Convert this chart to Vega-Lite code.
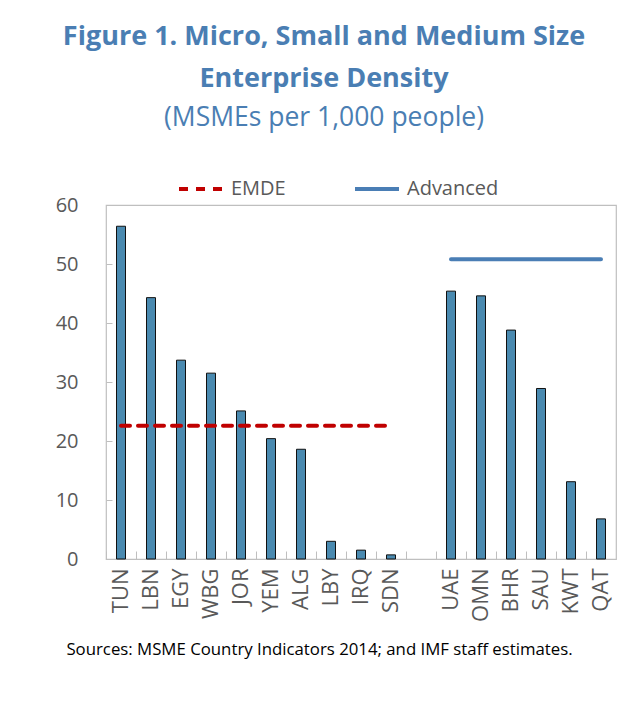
{
  "$schema": "https://vega.github.io/schema/vega-lite/v6.json",
  "width": 510,
  "height": 354,
  "autosize": {"type": "none"},
  "padding": {"left": 106, "top": 205, "right": 15, "bottom": 168},
  "background": "white",
  "config": {
    "font": "Open Sans",
    "view": {"stroke": "#bfbfbf", "strokeWidth": 1.2}
  },
  "title": {
    "text": ["Figure 1. Micro, Small and Medium Size", "Enterprise Density"],
    "subtitle": "(MSMEs per 1,000 people)",
    "font": "Open Sans",
    "fontSize": 27,
    "fontWeight": "bold",
    "color": "#4a7eb3",
    "lineHeight": 42,
    "subtitleFont": "Open Sans",
    "subtitleFontSize": 26.5,
    "subtitleColor": "#4a7eb3",
    "subtitleFontWeight": "normal",
    "subtitlePadding": 12,
    "anchor": "middle",
    "frame": "group",
    "dx": -37,
    "offset": 33
  },
  "datasets": {
    "bars": [
      {"country": "TUN", "value": 56.4},
      {"country": "LBN", "value": 44.3},
      {"country": "EGY", "value": 33.7},
      {"country": "WBG", "value": 31.5},
      {"country": "JOR", "value": 25.1},
      {"country": "YEM", "value": 20.4},
      {"country": "ALG", "value": 18.6},
      {"country": "LBY", "value": 3.0},
      {"country": "IRQ", "value": 1.5},
      {"country": "SDN", "value": 0.7},
      {"country": "gap", "value": null},
      {"country": "UAE", "value": 45.4},
      {"country": "OMN", "value": 44.6},
      {"country": "BHR", "value": 38.8},
      {"country": "SAU", "value": 28.9},
      {"country": "KWT", "value": 13.1},
      {"country": "QAT", "value": 6.8}
    ],
    "lines": [
      {"series": "EMDE", "start": "TUN", "end": "SDN", "value": 22.6},
      {"series": "Advanced", "start": "UAE", "end": "QAT", "value": 50.8}
    ]
  },
  "layer": [
    {
      "data": {"name": "bars"},
      "mark": {"type": "bar", "width": {"band": 0.3}, "fill": "#4a8ab0", "stroke": "#111111", "strokeWidth": 1},
      "encoding": {
        "x": {
          "field": "country",
          "type": "nominal",
          "sort": null,
          "title": "Sources: MSME Country Indicators 2014;  and IMF staff estimates.",
          "scale": {
            "domain": ["TUN", "LBN", "EGY", "WBG", "JOR", "YEM", "ALG", "LBY", "IRQ", "SDN", "gap", "UAE", "OMN", "BHR", "SAU", "KWT", "QAT"],
            "paddingInner": 0,
            "paddingOuter": 0
          },
          "axis": {
            "titleFont": "Open Sans",
            "titleFontSize": 16.8,
            "titleFontWeight": "normal",
            "titleColor": "#000000",
            "titleX": 213,
            "titleY": 95,
            "titleAlign": "center",
            "titleBaseline": "alphabetic",
            "domain": false,
            "bandPosition": 0,
            "ticks": true,
            "tickSize": -8,
            "tickColor": "#bfbfbf",
            "tickWidth": 1,
            "labelAngle": -90,
            "labelPadding": 17,
            "labelFontSize": 22,
            "labelColor": "#595959",
            "labelExpr": "datum.label == 'gap' ? '' : datum.label"
          }
        },
        "y": {
          "field": "value",
          "type": "quantitative",
          "title": null,
          "scale": {"domain": [0, 60], "nice": false},
          "axis": {
            "values": [0, 10, 20, 30, 40, 50, 60],
            "domain": false,
            "grid": false,
            "ticks": true,
            "tickSize": -6,
            "tickColor": "#bfbfbf",
            "labelPadding": 34,
            "labelFontSize": 20,
            "labelColor": "#595959"
          }
        }
      }
    },
    {
      "data": {"name": "lines"},
      "mark": {"type": "rule", "strokeWidth": 4, "strokeCap": "round"},
      "encoding": {
        "x": {"field": "start", "type": "nominal", "title": "Sources: MSME Country Indicators 2014;  and IMF staff estimates."},
        "x2": {"field": "end"},
        "y": {"field": "value", "type": "quantitative", "title": null},
        "color": {
          "field": "series",
          "type": "nominal",
          "scale": {"domain": ["EMDE", "Advanced"], "range": ["#c00000", "#4a7eb5"]},
          "legend": {
            "title": null,
            "orient": "none",
            "legendX": 71,
            "legendY": -40,
            "direction": "horizontal",
            "symbolType": "stroke",
            "symbolSize": 1936,
            "symbolStrokeWidth": 4,
            "labelFontSize": 20,
            "labelColor": "#595959",
            "labelOffset": 6,
            "columnPadding": 61,
            "padding": 0
          }
        },
        "strokeDash": {
          "field": "series",
          "type": "nominal",
          "scale": {"domain": ["EMDE", "Advanced"], "range": [[9, 8], [1, 0]]}
        }
      }
    }
  ]
}
